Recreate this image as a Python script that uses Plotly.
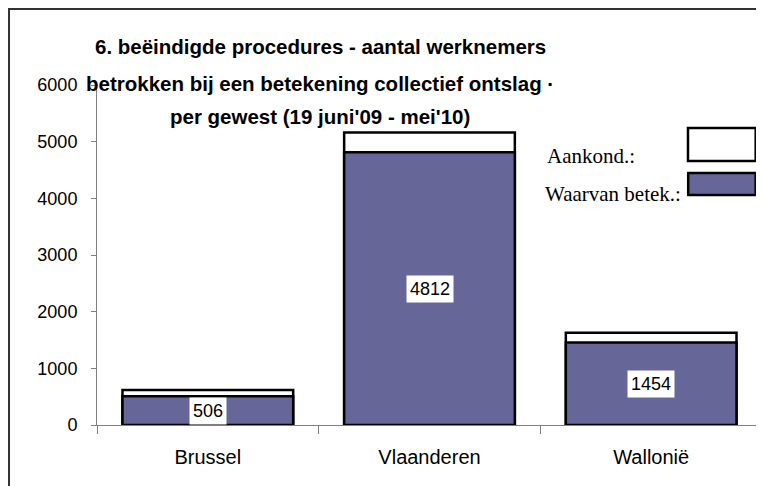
import plotly.graph_objects as go

# -- Data ---------------------------------------------------------------------
regions    = ["Brussel", "Vlaanderen", "Wallonië"]
aankond    = [618, 5160, 1630]     # aangekondigd (wit)
betekend   = [506, 4812, 1454]     # waarvan betekend (paars)
y_ticks    = [0, 1000, 2000, 3000, 4000, 5000, 6000]

title_lines = [
    "6. beëindigde procedures - aantal werknemers",
    "betrokken bij een betekening collectief ontslag ·",
    "per gewest (19 juni'09 - mei'10)",
]

# -- Style --------------------------------------------------------------------
_PURPLE = "#666699"
_SANS   = "Liberation Sans, Arial, sans-serif"
_SERIF  = "Liberation Serif, Times New Roman, serif"

fig = go.Figure()
fig.add_trace(go.Bar(
    x=regions, y=aankond, name="Aankond.:",
    marker=dict(color="white", line=dict(color="black", width=2.5)),
    width=0.77, hoverinfo="x+y",
))
fig.add_trace(go.Bar(
    x=regions, y=betekend, name="Waarvan betek.:",
    marker=dict(color=_PURPLE, line=dict(color="black", width=2.5)),
    width=0.77, hoverinfo="x+y",
))

# value labels with white background, centred in the purple bars
for r, v in zip(regions, betekend):
    fig.add_annotation(
        x=r, y=v / 2, text=str(v), showarrow=False,
        font=dict(family=_SANS, size=18, color="black"),
        bgcolor="white", borderpad=3,
    )

# title, three centred lines
for txt, yy in zip(title_lines, [1.112, 1.003, 0.908]):
    fig.add_annotation(
        x=0.336, y=yy, xref="paper", yref="paper", text=f"<b>{txt}</b>",
        showarrow=False, xanchor="center", yanchor="middle",
        font=dict(family=_SANS, size=20.5, color="black"),
    )

# custom legend: big boxes on the right, serif labels
fig.add_shape(type="rect", xref="paper", yref="paper",
              x0=0.8887, x1=0.9905, y0=0.7765, y1=0.8735,
              fillcolor="white", line=dict(color="black", width=2.5))
fig.add_shape(type="rect", xref="paper", yref="paper",
              x0=0.889, x1=0.9905, y0=0.6765, y1=0.7412,
              fillcolor=_PURPLE, line=dict(color="black", width=2.5))
fig.add_annotation(x=0.6737, y=0.79, xref="paper", yref="paper",
                   text="Aankond.:", showarrow=False,
                   xanchor="left", yanchor="middle",
                   font=dict(family=_SERIF, size=21, color="black"))
fig.add_annotation(x=0.6707, y=0.68, xref="paper", yref="paper",
                   text="Waarvan betek.:", showarrow=False,
                   xanchor="left", yanchor="middle",
                   font=dict(family=_SERIF, size=21, color="black"))

# outer chart border (only top and left visible in the original)
fig.add_shape(type="rect", xref="paper", yref="paper",
              x0=-0.1323, x1=1.2, y0=-0.4, y1=1.2235,
              line=dict(color="#333333", width=2), layer="below")

# page body adds an 8px margin, so the figure is 8px smaller than the window
fig.update_layout(
    barmode="overlay",
    showlegend=False,
    width=756, height=478,
    margin=dict(l=89, r=2, t=77, b=61),
    paper_bgcolor="white",
    plot_bgcolor="white",
    font=dict(family=_SANS, size=16, color="black"),
    xaxis=dict(
        showline=True, linecolor="#808080", linewidth=1,
        ticks="outside", tickson="boundaries", ticklen=8,
        tickcolor="#808080", tickfont=dict(size=20),
        ticklabelstandoff=14, showgrid=False,
    ),
    yaxis=dict(
        range=[0, 6000], tickvals=y_ticks,
        showline=True, linecolor="#808080", linewidth=1,
        ticks="outside", ticklen=5, tickcolor="#808080",
        tickfont=dict(size=18), ticklabelstandoff=10,
        showgrid=False, zeroline=False,
    ),
)

fig.write_html("out.html")
